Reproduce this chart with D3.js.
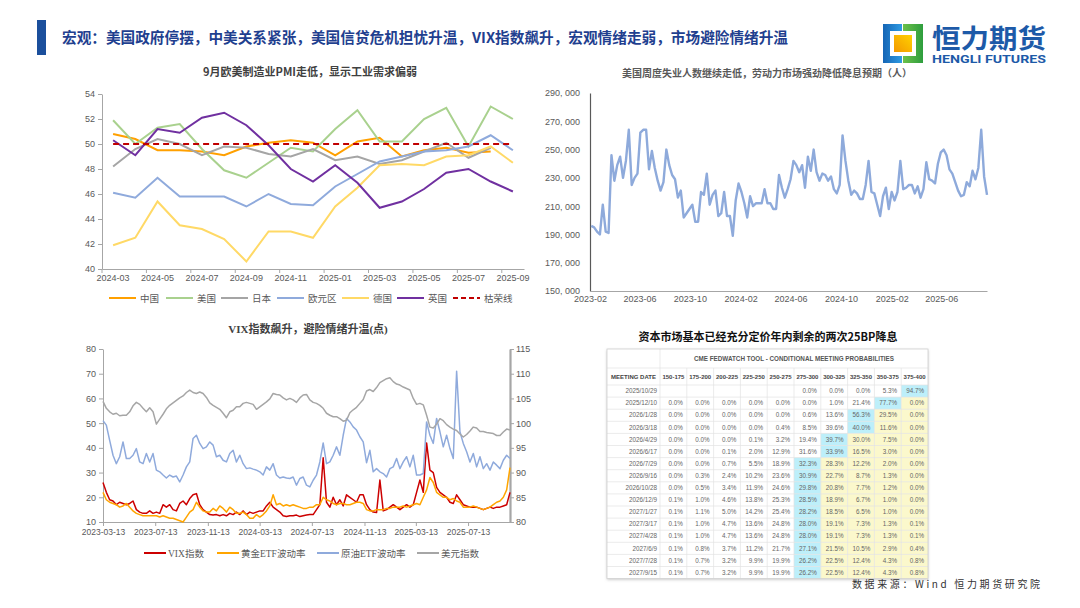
<!DOCTYPE html>
<html>
<head>
<meta charset="utf-8">
<script src="https://cdn.jsdelivr.net/npm/d3@7"></script>
<style>
  body { margin: 0; background: #fff; }
  text { font-family: "Liberation Sans", "Noto Sans CJK SC", sans-serif; }
</style>
</head>
<body>
<svg id="page" width="1080" height="608"></svg>
<script>
// ---------- data: PMI ----------
const pmiMonths = ["2024-03","2024-04","2024-05","2024-06","2024-07","2024-08","2024-09","2024-10","2024-11","2024-12",
  "2025-01","2025-02","2025-03","2025-04","2025-05","2025-06","2025-07","2025-08","2025-09"];
const pmiChina   = [50.8,50.4,49.5,49.5,49.4,49.1,49.8,50.1,50.3,50.1,49.1,50.2,50.5,49.0,49.5,49.7,49.3,49.4];
const pmiUS      = [51.9,50.0,51.3,51.6,49.6,47.9,47.3,48.5,49.7,49.4,51.2,52.7,50.2,50.2,52.0,52.9,49.8,53.0,52.0];
const pmiJapan   = [48.2,49.6,50.4,50.0,49.1,49.8,49.7,49.2,49.0,49.6,48.7,49.0,48.4,48.7,49.4,50.1,48.9,49.7];
const pmiEuro    = [46.1,45.7,47.3,45.8,45.8,45.8,45.0,46.0,45.2,45.1,46.6,47.6,48.6,49.0,49.4,49.5,49.8,50.7,49.5];
const pmiGermany = [41.9,42.5,45.4,43.5,43.2,42.4,40.6,43.0,43.0,42.5,45.0,46.5,48.3,48.4,48.3,49.0,49.1,49.8,48.5];
const pmiUK      = [50.3,49.1,51.2,50.9,52.1,52.5,51.5,49.9,48.0,47.0,48.3,46.9,44.9,45.4,46.4,47.7,48.0,47.0,46.2];
const pmiBoomBust = 50;
const pmiYTicks = [40,42,44,46,48,50,52,54];

// ---------- data: weekly initial jobless claims (weeks from 2023-02-04) ----------
const claimsStart = "2023-02-04";
const claims = [
  196000,195000,192000,190000,211000,192000,191000,246000,228000,239000,245000,230000,242000,264000,225000,230000,
  233000,262000,264000,264000,236000,249000,237000,228000,221000,227000,250000,239000,232000,229000,216000,221000,
  202000,205000,208000,211000,199000,199000,220000,218000,233000,211000,218000,221000,203000,205000,220000,203000,
  203000,189000,214000,226000,220000,212000,202000,217000,210000,212000,212000,212000,222000,212000,212000,208000,
  208000,232000,223000,216000,222000,229000,242000,239000,234000,239000,223000,245000,235000,250000,234000,228000,
  233000,232000,228000,231000,222000,219000,225000,260000,242000,228000,218000,221000,219000,215000,215000,225000,
  242000,220000,219000,211000,
  203000,217000,223000,208000,220000,214000,220000,242000,222000,223000,225000,225000,219000,224000,216000,222000,
  241000,229000,228000,226000,240000,248000,250000,246000,236000,233000,227000,221000,217000,218000,227000,224000,
  235000,229000,237000,264000,231000,218000
];
const claimsTicks = ["2023-02","2023-06","2023-10","2024-02","2024-06","2024-10","2025-02","2025-06"];
const claimsYTicks = [150000,170000,190000,210000,230000,250000,270000,290000];

// ---------- data: VIX / gold vol / oil vol / dollar (evenly sampled 2023-03-13 .. 2025-10-19) ----------
const vixStart = "2023-03-13", vixEnd = "2025-10-19";
const vixIndex = [
  26,22,19,18.5,17,18,17.5,17,17.5,18.5,
  15,14,13.5,13.5,14.5,13.5,14,13.5,17,16,
  17,15,14.5,17.5,18.5,17,19.5,21,21.5,17,
  15,14,13,12.8,13,12.5,13,12.5,13.5,13,
  14,13,14.5,13,14,13.5,14,14.5,14.5,16.5,
  18,16,15,14,12.5,12.2,12.5,12.5,12.8,12.2,
  12.5,12.8,13,13,15,17,36,18,16,20,
  17,19,16.5,21,20,19,18,21,21,17,
  15,14,13.8,27,14.5,15,16,17,16,15,
  16,17,16,17,22,27,22,42,31,30,
  24,22,21,20,18,17.5,21,19,17,16.5,
  16,16,16,15.5,15,15.5,16,15.5,16,16,
  16.5,17,22
];
const goldVol = [
  22,19,18,17.5,17,16,16.5,17.5,16,14.5,
  13.5,13,12.5,12.5,12.5,12.5,12.5,12,12.5,12,
  11.5,11.5,11,10.5,10,12,14,15,18,16,
  14.5,14,14,15.5,14.5,16.5,15.5,14,16,15,
  13.5,13.5,14,13,11.5,11.5,13,12,13,14.5,
  16.5,21,17,17.5,16.5,17,16.5,17,16.5,16,
  15.5,15.5,16,16,17,17,20,19,18.5,17.5,
  17,17.5,17.5,17,17,17.5,18,18,17.5,15,
  14.5,14.5,15,15,15,15.5,15.5,16,16,16,
  16.5,16,16.5,17,17.5,17,20,23,28,26,
  22,21,20,20,19,19.5,18.5,18,16,16,
  16,16.5,16,15.5,15,15.5,16,17,18,18.5,
  20,23,32
];
const oilVol = [
  51,49.2,43,37,33.6,36.4,42.4,35.7,35.7,37,
  39.7,34.3,33.6,37.7,34.3,37.7,31,30.3,29,27.8,
  29,28.2,28.6,26.2,29,32.3,34.3,43.8,45.1,41.8,
  39.7,40.4,42.4,41.1,36.4,37,35,34.3,37.7,39,
  34.3,37,33.6,31.6,31.9,31.4,31,30.3,29,32.3,
  31,33.6,29,27.8,28.2,27.8,27.6,28.2,24.9,27.6,
  28.2,24.9,24.2,26.9,29,34.3,42,33.6,34.3,37,
  40.4,37,45.1,51.9,50.5,48.5,47.2,44.5,42.4,34,
  39,30.3,31.6,30.3,29.6,28.2,31.6,32.3,35.7,31.6,
  34.3,36.4,32.3,37,29,29,29.6,50.5,45.1,41.8,
  51.9,46.5,40.4,45.1,39.7,35.7,71,46.5,41.8,38.4,
  34.3,37.7,32.3,36.4,31.6,33.6,31,34.3,33,31.6,
  35,37,35.7
];
const dollarIndex = [
  104.4,103.0,102.3,101.8,102.0,101.5,101.6,101.6,102.3,103.5,
  104.2,103.8,103.0,102.3,103.1,102.3,99.8,100.8,101.8,102.9,
  103.6,104.1,104.6,105.1,105.5,106.2,106.7,106.2,106.0,106.3,
  106.0,105.2,104.1,103.6,103.2,102.8,102.0,101.1,102.3,102.6,
  103.3,103.3,104.0,104.2,104.0,103.8,102.8,103.3,103.8,104.3,
  104.9,106.0,105.8,105.7,105.1,104.7,105.0,104.7,104.2,105.1,
  105.7,105.8,104.7,104.2,104.0,103.6,103.0,102.0,101.6,101.3,
  101.3,100.9,100.4,100.6,102.1,102.7,103.2,104.0,104.8,106.5,
  106.8,106.4,107.2,108.2,108.6,109.0,109.2,108.4,107.9,107.7,
  107.3,107.0,106.7,105.0,103.8,104.0,103.7,101.6,99.2,99.0,
  99.8,100.9,100.5,99.7,99.2,98.8,98.5,97.8,97.2,97.7,
  98.4,99.2,99.0,98.3,98.3,98.1,98.0,97.9,97.5,97.5,
  98.2,98.8,98.6
];
const vixTicks = ["2023-03-13","2023-07-13","2023-11-13","2024-03-13","2024-07-13","2024-11-13","2025-03-13","2025-07-13"];
const vixLeftTicks = [10,20,30,40,50,60,70,80];
const vixRightTicks = [80,85,90,95,100,105,110,115];

// ---------- data: CME FedWatch table ----------
const fedCols = ["150-175","175-200","200-225","225-250","250-275","275-300","300-325","325-350","350-375","375-400"];
const fedDates = ["2025/10/29","2025/12/10","2026/1/28","2026/3/18","2026/4/29","2026/6/17","2026/7/29","2026/9/16",
  "2026/10/28","2026/12/9","2027/1/27","2027/3/17","2027/4/28","2027/6/9","2027/7/28","2027/9/15"];
const fedProbs = [
  [null,null,null,null,null,0.0,0.0,0.0,5.3,94.7],
  [0.0,0.0,0.0,0.0,0.0,0.0,1.0,21.4,77.7,0.0],
  [0.0,0.0,0.0,0.0,0.0,0.6,13.6,56.3,29.5,0.0],
  [0.0,0.0,0.0,0.0,0.4,8.5,39.6,40.0,11.6,0.0],
  [0.0,0.0,0.0,0.1,3.2,19.4,39.7,30.0,7.5,0.0],
  [0.0,0.0,0.1,2.0,12.9,31.6,33.9,16.5,3.0,0.0],
  [0.0,0.0,0.7,5.5,18.9,32.3,28.3,12.2,2.0,0.0],
  [0.0,0.3,2.4,10.2,23.6,30.9,22.7,8.7,1.3,0.0],
  [0.0,0.5,3.4,11.9,24.6,29.8,20.8,7.7,1.2,0.0],
  [0.1,1.0,4.6,13.8,25.3,28.5,18.9,6.7,1.0,0.0],
  [0.1,1.1,5.0,14.2,25.4,28.2,18.5,6.5,1.0,0.0],
  [0.1,1.0,4.7,13.6,24.8,28.0,19.1,7.3,1.3,0.1],
  [0.1,1.0,4.7,13.6,24.8,28.0,19.1,7.3,1.3,0.1],
  [0.1,0.8,3.7,11.2,21.7,27.1,21.5,10.5,2.9,0.4],
  [0.1,0.7,3.2,9.9,19.9,26.2,22.5,12.4,4.3,0.8],
  [0.1,0.7,3.2,9.9,19.9,26.2,22.5,12.4,4.3,0.8]
];

// ---------- page ----------
const svg = d3.select("#page");
svg.append("rect").attr("width", 1080).attr("height", 608).attr("fill", "#fff");

const CJK = "\"Noto Sans CJK SC\", sans-serif";
const SERIF = "\"Liberation Serif\", \"Noto Sans CJK SC\", serif";
const TICK = "\"Liberation Sans\", \"DejaVu Sans\", sans-serif";

function styleAxis(g, size, family) {
  g.select(".domain").attr("stroke", "#a6a6a6");
  g.selectAll(".tick line").attr("stroke", "#a6a6a6");
  g.selectAll(".tick text").attr("fill", "#595959")
    .style("font-size", size + "px").style("font-family", family || TICK);
}

// header
svg.append("rect").attr("x", 37).attr("y", 20).attr("width", 9).attr("height", 35).attr("fill", "#1b4f9c");
svg.append("text").attr("x", 62).attr("y", 43)
  .attr("textLength", 726).attr("lengthAdjust", "spacingAndGlyphs")
  .style("font-family", CJK).style("font-size", "15px").style("font-weight", "bold")
  .attr("fill", "#1f3f8f")
  .text("宏观：美国政府停摆，中美关系紧张，美国信贷危机担忧升温，VIX指数飙升，宏观情绪走弱，市场避险情绪升温");

// logo
const logo = svg.append("g");
const defs = svg.append("defs");
const gb = defs.append("linearGradient").attr("id", "lgBlue").attr("x1", 0).attr("x2", 1);
gb.append("stop").attr("offset", 0).attr("stop-color", "#1565b5");
gb.append("stop").attr("offset", 1).attr("stop-color", "#2f9be3");
const gg = defs.append("linearGradient").attr("id", "lgGreen").attr("x1", 0).attr("x2", 1);
gg.append("stop").attr("offset", 0).attr("stop-color", "#6cc04a");
gg.append("stop").attr("offset", 1).attr("stop-color", "#2e9e3e");
const go = defs.append("linearGradient").attr("id", "lgOrange").attr("x1", 0).attr("y1", 1).attr("x2", 1).attr("y2", 0);
go.append("stop").attr("offset", 0).attr("stop-color", "#f39800");
go.append("stop").attr("offset", 1).attr("stop-color", "#ffd200");
logo.append("rect").attr("x", 883).attr("y", 24).attr("width", 19).attr("height", 39).attr("fill", "url(#lgBlue)");
logo.append("rect").attr("x", 903).attr("y", 24).attr("width", 20).attr("height", 39).attr("fill", "url(#lgGreen)");
logo.append("rect").attr("x", 890).attr("y", 31).attr("width", 26).attr("height", 25).attr("fill", "#fff");
logo.append("rect").attr("x", 894).attr("y", 35).attr("width", 18).attr("height", 17).attr("fill", "url(#lgOrange)");
logo.append("text").attr("x", 932).attr("y", 48).attr("textLength", 114).attr("lengthAdjust", "spacingAndGlyphs")
  .style("font-family", CJK).style("font-size", "26px").style("font-weight", "bold").attr("fill", "#1d5aa8")
  .text("恒力期货");
logo.append("text").attr("x", 932).attr("y", 63).attr("textLength", 114).attr("lengthAdjust", "spacingAndGlyphs")
  .style("font-family", "\"Roboto\", sans-serif").style("font-size", "11px").style("font-weight", "bold").attr("fill", "#1d5aa8")
  .text("HENGLI FUTURES");

// ---------- chart 1: PMI ----------
(function () {
  const g = svg.append("g");
  const x = d3.scaleBand().domain(pmiMonths).range([102, 524]);
  const y = d3.scaleLinear().domain([40, 54]).range([269, 94]);
  const cx = m => x(m) + x.bandwidth() / 2;

  g.append("text").attr("x", 310).attr("y", 76).attr("text-anchor", "middle")
    .style("font-family", CJK).style("font-size", "11px").style("font-weight", "bold").attr("fill", "#404040")
    .text("9月欧美制造业PMI走低，显示工业需求偏弱");

  const ya = g.append("g").attr("transform", "translate(102,0)")
    .call(d3.axisLeft(y).tickValues(pmiYTicks).tickSize(4).tickSizeOuter(0).tickPadding(3));
  styleAxis(ya, 9);

  const labelMonths = pmiMonths.filter((d, i) => i % 2 === 0);
  const xa = g.append("g").attr("transform", "translate(0,269)")
    .call(d3.axisBottom(x).tickValues(labelMonths).tickSize(0).tickSizeOuter(0).tickPadding(6));
  styleAxis(xa, 9);
  g.append("g").selectAll("line").data(labelMonths).join("line")
    .attr("x1", d => x(d)).attr("x2", d => x(d)).attr("y1", 269).attr("y2", 273).attr("stroke", "#a6a6a6");

  const series = [
    { name: "中国", values: pmiChina, color: "#ffa000" },
    { name: "美国", values: pmiUS, color: "#a9d18e" },
    { name: "日本", values: pmiJapan, color: "#a5a5a5" },
    { name: "欧元区", values: pmiEuro, color: "#8faadc" },
    { name: "德国", values: pmiGermany, color: "#ffd966" },
    { name: "英国", values: pmiUK, color: "#7030a0" }
  ];
  const line = d3.line().x(d => cx(d.m)).y(d => y(d.v));
  series.forEach(s => {
    g.append("path").datum(s.values.map((v, i) => ({ m: pmiMonths[i], v })))
      .attr("d", line).attr("fill", "none").attr("stroke", s.color).attr("stroke-width", 2);
  });
  g.append("line").attr("x1", cx(pmiMonths[0])).attr("x2", cx(pmiMonths[pmiMonths.length - 1]))
    .attr("y1", y(pmiBoomBust)).attr("y2", y(pmiBoomBust))
    .attr("stroke", "#c00000").attr("stroke-width", 2).attr("stroke-dasharray", "6,4");

  const legend = series.concat([{ name: "枯荣线", color: "#c00000", dash: true }]);
  const lx = [109, 166, 221, 277, 342, 397, 453];
  legend.forEach((s, i) => {
    g.append("line").attr("x1", lx[i]).attr("x2", lx[i] + 27).attr("y1", 298).attr("y2", 298)
      .attr("stroke", s.color).attr("stroke-width", 2).attr("stroke-dasharray", s.dash ? "5,3" : null);
    g.append("text").attr("x", lx[i] + 31).attr("y", 301.5)
      .style("font-family", CJK).style("font-size", "9.5px").attr("fill", "#595959").text(s.name);
  });
})();

// ---------- chart 2: jobless claims ----------
(function () {
  const g = svg.append("g");
  const parseM = d3.timeParse("%Y-%m");
  const start = d3.timeParse("%Y-%m-%d")(claimsStart);
  const data = claims.map((v, i) => ({ d: d3.timeDay.offset(start, 7 * i), v }));
  const x = d3.scaleTime().domain([parseM("2023-02"), data[data.length - 1].d]).range([590, 987]);
  const y = d3.scaleLinear().domain([150000, 290000]).range([291, 93]);

  g.append("text").attr("x", 767).attr("y", 77).attr("text-anchor", "middle")
    .style("font-family", CJK).style("font-size", "10px").style("font-weight", "bold").attr("fill", "#595959")
    .text("美国周度失业人数继续走低，劳动力市场强劲降低降息预期（人）");

  const ya = g.append("g").attr("transform", "translate(590,0)")
    .call(d3.axisLeft(y).tickValues(claimsYTicks).tickSize(0).tickPadding(10)
      .tickFormat(d => d3.format(",")(d).replace(",", ", ")));
  styleAxis(ya, 9);
  ya.select(".domain").attr("stroke", "#595959").attr("stroke-width", 1.2);

  const xa = g.append("g").attr("transform", "translate(0,291)")
    .call(d3.axisBottom(x).tickValues(claimsTicks.map(parseM)).tickSize(0).tickPadding(5)
      .tickFormat(d3.timeFormat("%Y-%m")));
  styleAxis(xa, 9);

  g.append("path").datum(data)
    .attr("d", d3.line().x(d => x(d.d)).y(d => y(d.v)))
    .attr("fill", "none").attr("stroke", "#8eaadb").attr("stroke-width", 2.4).attr("stroke-linejoin", "round");
})();

// ---------- chart 3: VIX ----------
(function () {
  const g = svg.append("g");
  const parseD = d3.timeParse("%Y-%m-%d");
  const t0 = parseD(vixStart), t1 = parseD(vixEnd);
  const n = vixIndex.length;
  const dateAt = i => new Date(+t0 + (t1 - t0) * i / (n - 1));
  const x = d3.scaleTime().domain([t0, t1]).range([103, 510]);
  const yL = d3.scaleLinear().domain([10, 80]).range([522, 349]);
  const yR = d3.scaleLinear().domain([80, 115]).range([522, 349]);

  g.append("text").attr("x", 308).attr("y", 333).attr("text-anchor", "middle")
    .style("font-family", SERIF).style("font-size", "11px").style("font-weight", "bold").attr("fill", "#404040")
    .text("VIX指数飙升，避险情绪升温(点)");

  const ya = g.append("g").attr("transform", "translate(103,0)")
    .call(d3.axisLeft(yL).tickValues(vixLeftTicks).tickSize(4).tickSizeOuter(0).tickPadding(3));
  styleAxis(ya, 9);
  const yra = g.append("g").attr("transform", "translate(510,0)")
    .call(d3.axisRight(yR).tickValues(vixRightTicks).tickSize(4).tickSizeOuter(0).tickPadding(2));
  styleAxis(yra, 9);
  yra.select(".domain").attr("stroke-width", 2.2);
  const xa = g.append("g").attr("transform", "translate(0,522)")
    .call(d3.axisBottom(x).tickValues(vixTicks.map(parseD)).tickSize(4).tickSizeOuter(0).tickPadding(3)
      .tickFormat(d3.timeFormat("%Y-%m-%d")));
  styleAxis(xa, 8.5);

  const series = [
    { name: "VIX指数", values: vixIndex, color: "#cc0000", y: yL },
    { name: "黄金ETF波动率", values: goldVol, color: "#ffa500", y: yL },
    { name: "原油ETF波动率", values: oilVol, color: "#8faadc", y: yL },
    { name: "美元指数", values: dollarIndex, color: "#a6a6a6", y: yR }
  ];
  series.forEach(s => {
    g.append("path").datum(s.values.map((v, i) => ({ d: dateAt(i), v })))
      .attr("d", d3.line().x(d => x(d.d)).y(d => s.y(d.v)))
      .attr("fill", "none").attr("stroke", s.color).attr("stroke-width", 1.5).attr("stroke-linejoin", "round");
  });

  const lx = [144, 217, 317, 417];
  series.forEach((s, i) => {
    g.append("line").attr("x1", lx[i]).attr("x2", lx[i] + 22).attr("y1", 553).attr("y2", 553)
      .attr("stroke", s.color).attr("stroke-width", 2);
    g.append("text").attr("x", lx[i] + 24).attr("y", 556.5)
      .style("font-family", SERIF).style("font-size", "9.5px").attr("fill", "#595959").text(s.name);
  });
})();

// ---------- table: CME FedWatch ----------
(function () {
  const g = svg.append("g");
  const left = 607, right = 928, dateW = 53;
  const colX = d3.scaleBand().domain(fedCols).range([left + dateW, right]);
  const top = 349, h1 = 19, h2 = 17, rowH = 12.1;
  const rowY = d3.scaleBand().domain(fedDates).range([top + h1 + h2, top + h1 + h2 + rowH * fedDates.length]);
  const bottom = rowY.range()[1];

  g.append("text").attr("x", 768).attr("y", 341).attr("text-anchor", "middle")
    .style("font-family", CJK).style("font-size", "11px").style("font-weight", "bold").attr("fill", "#111")
    .text("资本市场基本已经充分定价年内剩余的两次25BP降息");

  defs.append("filter").attr("id", "shadow").attr("x", -0.05).attr("y", -0.05).attr("width", 1.1).attr("height", 1.1)
    .append("feDropShadow").attr("dx", 0).attr("dy", 1).attr("stdDeviation", 1.5).attr("flood-color", "#999").attr("flood-opacity", 0.6);
  g.append("rect").attr("x", left).attr("y", top).attr("width", right - left).attr("height", bottom - top)
    .attr("fill", "#fff").attr("filter", "url(#shadow)");

  // cell backgrounds
  fedProbs.forEach((row, r) => {
    const valid = row.map(v => v == null ? -1 : v);
    const maxI = valid.indexOf(d3.max(valid));
    row.forEach((v, c) => {
      let fill = null;
      if (c === maxI) fill = "#bdeffa";
      else if (c > maxI) fill = "#fbf8cc";
      if (fill) g.append("rect").attr("x", colX(fedCols[c])).attr("y", rowY(fedDates[r]))
        .attr("width", colX.bandwidth()).attr("height", rowY.bandwidth()).attr("fill", fill);
    });
  });

  // grid lines
  const grid = g.append("g").attr("stroke", "#e3e3e3").attr("stroke-width", 0.7);
  grid.append("line").attr("x1", left + dateW).attr("x2", left + dateW).attr("y1", top).attr("y2", bottom);
  grid.append("line").attr("x1", left).attr("x2", right).attr("y1", top + h1).attr("y2", top + h1);
  grid.append("line").attr("x1", left).attr("x2", right).attr("y1", top + h1 + h2).attr("y2", top + h1 + h2);
  grid.selectAll(".vl").data(fedCols.slice(1)).join("line")
    .attr("x1", d => colX(d)).attr("x2", d => colX(d)).attr("y1", top + h1).attr("y2", bottom);
  grid.selectAll(".hl").data(fedDates.slice(1)).join("line")
    .attr("x1", left).attr("x2", right).attr("y1", d => rowY(d)).attr("y2", d => rowY(d));
  g.append("rect").attr("x", left).attr("y", top).attr("width", right - left).attr("height", bottom - top)
    .attr("fill", "none").attr("stroke", "#d0d0d0").attr("stroke-width", 0.8);

  // headers
  g.append("text").attr("x", (left + dateW + right) / 2).attr("y", top + h1 / 2 + 2.2).attr("text-anchor", "middle")
    .style("font-size", "6.3px").style("font-weight", "bold").attr("fill", "#555")
    .text("CME FEDWATCH TOOL - CONDITIONAL MEETING PROBABILITIES");
  g.append("text").attr("x", left + dateW / 2).attr("y", top + h1 + h2 / 2 + 2.2).attr("text-anchor", "middle")
    .style("font-size", "6px").style("font-weight", "bold").attr("fill", "#444").text("MEETING DATE");
  g.selectAll(".ch").data(fedCols).join("text")
    .attr("x", d => colX(d) + colX.bandwidth() / 2).attr("y", top + h1 + h2 / 2 + 2.2).attr("text-anchor", "middle")
    .style("font-size", "6px").style("font-weight", "bold").attr("fill", "#444").text(d => d);

  // body
  g.selectAll(".dt").data(fedDates).join("text")
    .attr("x", left + dateW - 3).attr("y", d => rowY(d) + rowY.bandwidth() / 2 + 2.2).attr("text-anchor", "end")
    .style("font-size", "6.3px").attr("fill", "#666").text(d => d);
  fedProbs.forEach((row, r) => {
    row.forEach((v, c) => {
      if (v == null) return;
      g.append("text").attr("x", colX(fedCols[c]) + colX.bandwidth() - 4)
        .attr("y", rowY(fedDates[r]) + rowY.bandwidth() / 2 + 2.2).attr("text-anchor", "end")
        .style("font-size", "6.3px").attr("fill", "#666").text(v.toFixed(1) + "%");
    });
  });

  svg.append("text").attr("x", 852).attr("y", 588).attr("textLength", 188).attr("lengthAdjust", "spacing")
    .style("font-family", CJK).style("font-size", "10px").attr("fill", "#333")
    .text("数据来源：Wind 恒力期货研究院");
})();
</script>
</body>
</html>
